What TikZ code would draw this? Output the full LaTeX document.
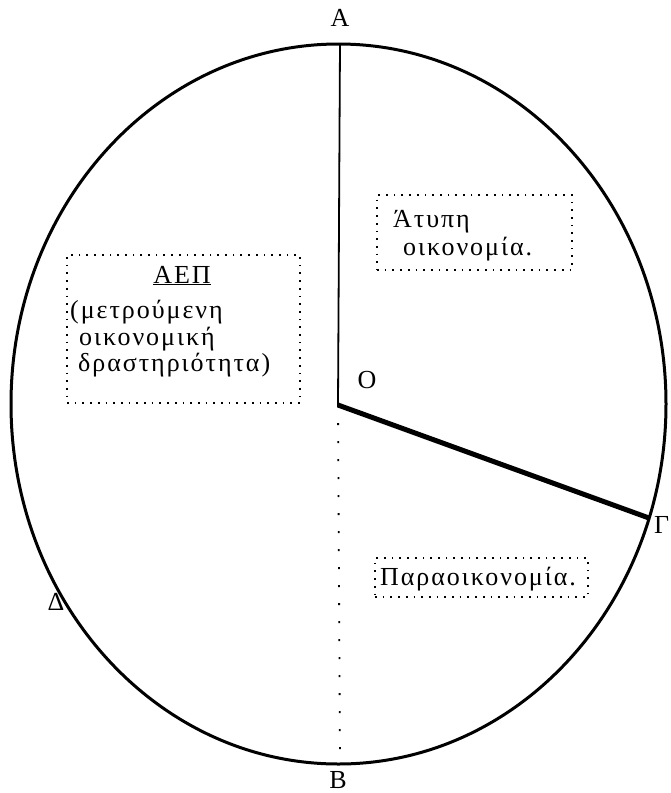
\documentclass[tikz,border=0pt]{standalone}
\usepackage{fontspec}
\setmainfont{Liberation Serif}
\usetikzlibrary{positioning}

\begin{document}
\begin{tikzpicture}[
    x=1pt, y=-1pt,
    txt/.style={inner sep=0pt, anchor=base west,
        font=\fontsize{26}{30}\selectfont\addfontfeature{LetterSpace=7.5}},
    lbl/.style={inner sep=0pt, font=\fontsize{26}{30}\selectfont},
    dotbox/.style={draw, line width=1.7pt, dash pattern=on 1.7pt off 6pt, inner sep=0pt},
    rim/.style={line width=3pt},
    radius/.style={line width=1.8pt}
]
\useasboundingbox (0,0) rectangle (670,793);

% points of the ellipse
\coordinate (O) at (338,405);
\coordinate (A) at (340,44);
\coordinate (B) at (340,764);
\coordinate (G) at (649,518);

\draw[rim] (338.5,404) ellipse [x radius=327.5pt, y radius=360pt];

\draw[radius] (A) -- (O);
\draw[line width=5pt] (O) -- (G);
\draw[radius, dash pattern=on 2pt off 16pt] (O) -- (B);

% letters
\node[lbl] (lA) at (340,18) {Α};
\node[lbl] (lB) at (338,780) {Β};
\node[lbl] (lO) at (367,380) {Ο};
\node[lbl, anchor=west] (lG) at (654,525) {Γ};
\node[lbl] (lD) at (56,602) {Δ};

% boxes
\node[dotbox, minimum width=233pt, minimum height=148pt] (aepbox) at (183.5,329) {};
\node[dotbox, minimum width=195pt, minimum height=75pt] (atbox) at (474.5,232.5) {};
\node[dotbox, minimum width=213pt, minimum height=39pt] (parbox) at (481.5,577.5) {};

\node[txt, anchor=base] (aep) at (182,283) {\underline{ΑΕΠ}};
\node[txt] (aep1) at (70,318) {(μετρούμενη};
\node[txt] (aep2) at (79,345) {οικονομική};
\node[txt] (aep3) at (78,371) {δραστηριότητα)};

\node[txt] (at1) at (393,227) {Άτυπη};
\node[txt] (at2) at (403,255) {οικονομία.};

\node[txt] (par) at (380,585) {Παραοικονομία.};

\end{tikzpicture}
\end{document}
